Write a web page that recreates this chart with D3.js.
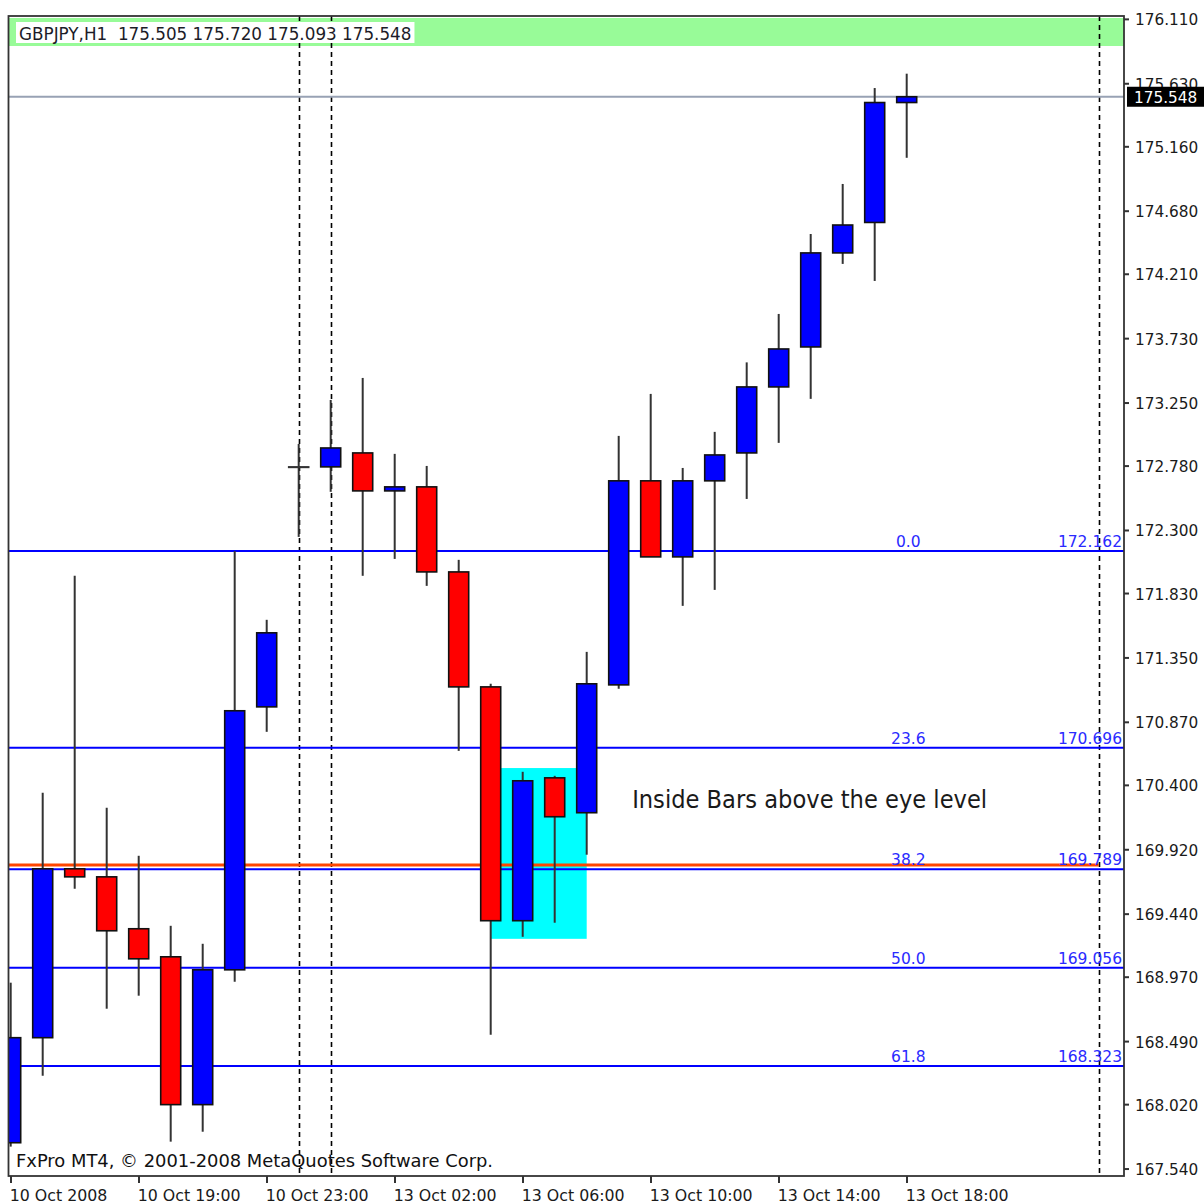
<html>
<head>
<script src="https://d3js.org/d3.v7.min.js"></script>
<style>
  body { margin: 0; background: #fff; }
  text { font-family: "DejaVu Sans", sans-serif; }
</style>
</head>
<body>
<div id="chart"></div>
<script>

// GBPJPY H1 bars, index 0 = 10 Oct 2008 15:00, index 9 = 12 Oct 23:00, index 10 = 13 Oct 00:00
var opens  = [167.751,168.534,169.793,169.733,169.346,169.137,168.035,169.040,171.000,172.789,
              172.789,172.893,172.610,172.640,172.006,171.149,169.406,170.471,170.211,171.164,
              172.685,172.118,172.685,172.893,173.385,173.683,174.384,174.611,175.505];
var highs  = [168.944,170.360,171.977,170.248,169.890,169.368,169.234,172.162,171.649,172.960,
              173.288,173.452,172.886,172.796,172.096,171.172,170.516,170.486,171.410,173.020,
              173.333,172.781,173.050,173.568,173.929,174.525,174.898,175.613,175.720];
var lows   = [167.722,168.251,169.644,168.750,168.847,167.759,167.833,168.951,170.814,172.267,
              172.603,171.977,172.103,171.902,170.672,168.556,169.286,169.391,169.898,171.135,
              172.118,171.753,171.872,172.550,172.968,173.296,174.302,174.175,175.093];
var closes = [168.534,169.793,169.733,169.331,169.122,168.035,169.040,170.971,171.552,172.789,
              172.930,172.610,172.640,172.006,171.149,169.406,170.449,170.181,171.172,172.685,
              172.118,172.685,172.878,173.385,173.668,174.384,174.592,175.505,175.548];

// right price axis (MT4 style labels)
var priceTicks = [176.110,175.630,175.160,174.680,174.210,173.730,173.250,172.780,172.300,171.830,
                  171.350,170.870,170.400,169.920,169.440,168.970,168.490,168.020,167.540];
// time axis
var timeTickIdx = [0,4,8,12,16,20,24,28];
var timeTickLabels = ["10 Oct 2008","10 Oct 19:00","10 Oct 23:00","13 Oct 02:00",
                      "13 Oct 06:00","13 Oct 10:00","13 Oct 14:00","13 Oct 18:00"];
// day separators (bar index)
var separators = [9, 10, 34];

// fibonacci retracement
var fibLevels = ["0.0","23.6","38.2","50.0","61.8"];
var fibPrices = [172.162,170.696,169.789,169.056,168.323];

// "eye level" line and inside bar box
var eyeLevel = 169.821;
var boxIdx = [15, 18];
var boxPrices = [169.271, 170.544];
var noteIdx = 19.42, notePrice = 170.246;
var noteText = "Inside Bars above the eye level";

var header = "GBPJPY,H1  175.505 175.720 175.093 175.548";
var lastPrice = 175.548;
var copyright = "FxPro MT4, \u00A9 2001-2008 MetaQuotes Software Corp.";

// visible price / bar range of the window
var priceMin = 167.503, priceMax = 176.150;
var barMin = 0, barMax = 34;

var W = 1204, H = 1204;
var plotL = 9, plotR = 1124, plotT = 16, plotB = 1176;

var svg = d3.select("#chart").append("svg")
    .attr("width", W).attr("height", H);

svg.append("rect").attr("width", W).attr("height", H).attr("fill", "#fff");

var x = d3.scaleLinear().domain([barMin, barMax]).range([10.7, 1098.7]);
var y = d3.scaleLinear().domain([priceMin, priceMax]).range([plotB, plotT]);

svg.append("clipPath").attr("id", "plot")
  .append("rect").attr("x", plotL).attr("y", plotT)
  .attr("width", plotR - plotL).attr("height", plotB - plotT);

var g = svg.append("g").attr("clip-path", "url(#plot)");

// green info band
g.append("rect")
  .attr("x", plotL).attr("y", 18).attr("width", plotR - plotL).attr("height", 28)
  .attr("fill", "#98fb98");

// inside bar box
g.append("rect")
  .attr("x", x(boxIdx[0])).attr("width", x(boxIdx[1]) - x(boxIdx[0]))
  .attr("y", y(boxPrices[1])).attr("height", y(boxPrices[0]) - y(boxPrices[1]))
  .attr("fill", "#00ffff");

// period separators
g.selectAll(".sep").data(separators).enter().append("line")
  .attr("x1", function(d){ return Math.round(x(d)) + 0.5; })
  .attr("x2", function(d){ return Math.round(x(d)) + 0.5; })
  .attr("y1", plotT).attr("y2", plotB)
  .attr("stroke", "#000").attr("stroke-width", 1.6)
  .attr("stroke-dasharray", "5,4");

// current price line
g.append("line")
  .attr("x1", plotL).attr("x2", plotR)
  .attr("y1", y(lastPrice)).attr("y2", y(lastPrice))
  .attr("stroke", "#98a2b4").attr("stroke-width", 2);

// eye level line
g.append("line")
  .attr("x1", plotL).attr("x2", x(34))
  .attr("y1", y(eyeLevel)).attr("y2", y(eyeLevel))
  .attr("stroke", "#ff4500").attr("stroke-width", 3);

// fib lines + labels
g.selectAll(".fib").data(fibPrices).enter().append("line")
  .attr("x1", plotL).attr("x2", plotR)
  .attr("y1", function(d){ return y(d); }).attr("y2", function(d){ return y(d); })
  .attr("stroke", "#0000ff").attr("stroke-width", 2);

g.selectAll(".fibLvl").data(fibLevels).enter().append("text")
  .attr("x", x(28.05)).attr("y", function(d, i){ return y(fibPrices[i]) - 4; })
  .attr("text-anchor", "middle").attr("font-size", 15.5).attr("fill", "#2a2aff")
  .text(function(d){ return d; });

g.selectAll(".fibPx").data(fibPrices).enter().append("text")
  .attr("x", plotR - 2).attr("y", function(d){ return y(d) - 4; })
  .attr("text-anchor", "end").attr("font-size", 15.5).attr("fill", "#2a2aff")
  .text(function(d){ return d.toFixed(3); });

// candles
var bars = d3.range(opens.length);

g.selectAll(".wick").data(bars).enter().append("line")
  .attr("x1", function(i){ return x(i); }).attr("x2", function(i){ return x(i); })
  .attr("y1", function(i){ return y(highs[i]); })
  .attr("y2", function(i){ return y(lows[i]); })
  .attr("stroke", "#333").attr("stroke-width", 2);

// bodies (a doji is drawn as a flat bar)
g.selectAll(".body").data(bars).enter().append("rect")
  .attr("x", function(i){ return x(i) - 10; })
  .attr("width", 20)
  .attr("y", function(i){ return y(Math.max(opens[i], closes[i])); })
  .attr("height", function(i){ return Math.max(0.5, Math.abs(y(opens[i]) - y(closes[i]))); })
  .attr("fill", function(i){ return closes[i] >= opens[i] ? "#0000ff" : "#ff0000"; })
  .attr("stroke", function(i){ return closes[i] == opens[i] ? "#333" : "#111"; })
  .attr("stroke-width", 1.6);

// note text
g.append("text")
  .attr("x", x(noteIdx)).attr("y", y(notePrice))
  .attr("font-family", "Liberation Sans, Arial, sans-serif")
  .attr("font-size", 24).attr("fill", "#1a1a1a")
  .attr("textLength", 355).attr("lengthAdjust", "spacingAndGlyphs")
  .text(noteText);

// header label on white
var hdr = svg.append("g");
var hdrText = hdr.append("text")
  .attr("x", 19).attr("y", 40)
  .attr("font-size", 16.8).attr("fill", "#1c1c28")
  .style("white-space", "pre")
  .text(header);
var hw = hdrText.node().getComputedTextLength();
hdr.insert("rect", "text")
  .attr("x", 16).attr("y", 22).attr("width", hw + 6).attr("height", 21)
  .attr("fill", "#fff");

// copyright
svg.append("text")
  .attr("x", 16).attr("y", 1167)
  .attr("font-size", 17.9).attr("fill", "#111")
  .text(copyright);

// frame
svg.append("rect")
  .attr("x", plotL - 0.5).attr("y", plotT).attr("width", plotR - plotL + 0.5).attr("height", plotB - plotT)
  .attr("fill", "none").attr("stroke", "#333").attr("stroke-width", 1.8);

// price axis
var ya = svg.append("g");
ya.selectAll(".ytick").data(priceTicks).enter().append("line")
  .attr("x1", plotR).attr("x2", plotR + 5)
  .attr("y1", function(d){ return y(d) - 2; }).attr("y2", function(d){ return y(d) - 2; })
  .attr("stroke", "#333").attr("stroke-width", 2);
ya.selectAll(".ylab").data(priceTicks).enter().append("text")
  .attr("x", 1135).attr("y", function(d){ return y(d) + 4; })
  .attr("font-size", 15.3).attr("fill", "#1a1a1a")
  .text(function(d){ return d.toFixed(3); });

// current price tag
ya.append("rect")
  .attr("x", 1127).attr("y", y(lastPrice) - 10).attr("width", 77).attr("height", 20)
  .attr("fill", "#000");
ya.append("text")
  .attr("x", 1134).attr("y", y(lastPrice) + 6)
  .attr("font-size", 15.3).attr("fill", "#fff")
  .text(lastPrice.toFixed(3));

// time axis
var xa = svg.append("g");
xa.selectAll(".xtick").data(timeTickIdx).enter().append("line")
  .attr("x1", function(d){ return Math.round(x(d)); }).attr("x2", function(d){ return Math.round(x(d)); })
  .attr("y1", plotB).attr("y2", plotB + 7)
  .attr("stroke", "#333").attr("stroke-width", 2);
xa.selectAll(".xlab").data(timeTickLabels).enter().append("text")
  .attr("x", function(d, i){ return x(timeTickIdx[i]) - 1; })
  .attr("y", 1201)
  .attr("font-size", 15.8).attr("fill", "#1a1a1a")
  .text(function(d){ return d; });

</script>
</body>
</html>
